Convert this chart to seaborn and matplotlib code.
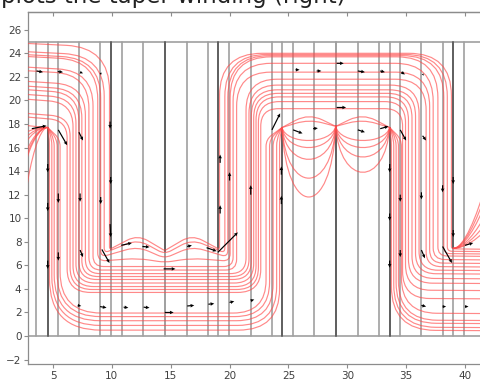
import numpy as np
import pandas as pd
import matplotlib
matplotlib.use("Agg")
import matplotlib.pyplot as plt
import seaborn as sns
from matplotlib.path import Path
from matplotlib.patches import PathPatch

# ---------------- data ----------------
GRID_X = [3.56, 5.45, 7.21, 9.02, 10.84, 12.65, 14.49, 16.38, 18.17, 19.98, 21.8,
          23.58, 25.37, 27.15, 29.02, 30.89, 32.7, 34.5, 36.3, 38.1, 39.95, 41.75]
BOX_Y = [0.0, 25.0]
PLATE_BOTTOM_X = [4.55, 24.46, 29.02, 33.6]
PLATE_BOTTOM_TIP = [17.7, 17.7, 17.8, 17.7]
PLATE_TOP_X = [9.9, 14.49, 19.04, 39.0]
PLATE_TOP_TIP = [7.35, 7.25, 7.35, 7.45]

# main staircase bundle of field lines
BUNDLE_Y_LEFT = [24.8, 24.1, 23.85, 23.7, 22.8, 22.5, 21.6, 21.2, 20.9, 20.5, 20.1, 18.9, 18.6]
BUNDLE_X_DROP1 = [9.80, 9.35, 9.05, 8.8, 8.4, 8.05, 7.75, 7.45, 7.2, 6.95, 6.7, 6.45, 6.2]
BUNDLE_Y_LOW = [7.25, 6.95, 6.6, 6.25, 5.9, 5.6, 5.3, 5.05, 4.8, 4.5, 4.2, 3.95, 3.7]
BUNDLE_Y_HUMP = [8.6, 8.2, 7.6, 6.6, 5.9, 5.6, 5.3, 5.05, 4.8, 4.5, 4.2, 3.95, 3.7]
BUNDLE_X_RISE = [19.15, 19.6, 19.85, 20.05, 20.3, 20.6, 21.4, 21.65, 21.85, 22.05, 22.25, 22.45, 22.65]
BUNDLE_Y_TOP = [24.0, 23.9, 23.8, 23.7, 23.15, 22.4, 21.8, 21.3, 20.9, 20.6, 20.3, 19.9, 19.3]
BUNDLE_X_DROP2 = [38.85, 38.5, 38.2, 37.7, 37.3, 37.0, 36.7, 36.1, 35.8, 35.5, 35.2, 34.95, 34.7]
BUNDLE_Y_RIGHT = [7.4, 7.2, 7.0, 6.8, 6.5, 6.2, 5.9, 5.6, 5.3, 4.9, 4.5, 3.9, 3.2]

# arcs hanging between plate tips
ARC_LEFT_DIP = [16.6, 16.0, 15.0, 13.4, 11.8]     # 24.46 -> 29.02
ARC_RIGHT_DIP = [16.6, 16.0, 15.2, 13.9]          # 29.02 -> 33.6
ARCH_PEAK = [18.9, 18.4]                          # arches over the tips

# fans from tips to the plot edges
FAN_LEFT_Y = [17.9, 17.3, 16.9, 16.5, 15.6, 15.2, 14.9, 12.4]
FAN_RIGHT_Y = [12.4, 11.7, 11.0, 10.1, 9.4, 8.85]

# U-shaped loops near the bottom
ULOOP_L_YBOT = [0.5, 0.9, 1.3, 1.65, 1.95]
ULOOP_L_XDOWN = [4.7, 4.9, 5.1, 5.35, 5.6]
ULOOP_L_XUP = [24.25, 24.0, 23.7, 23.4, 23.1]
ULOOP_R_YBOT = [0.5, 0.76, 1.1, 1.36, 1.95]
ULOOP_R_XDOWN = [33.75, 33.95, 34.15, 34.35, 34.6]

# arrows (tail position, displacement)
QX = [3.6, 5.4, 7.3, 9.05, 25.6, 27.4, 29.1, 30.9, 32.8, 34.6, 36.4,
      3.2, 5.45, 7.2, 23.6, 25.4, 27.1, 29.1, 30.9, 32.8, 34.5, 36.4,
      4.55, 4.55, 4.55, 5.45, 5.45, 7.3, 7.3, 9.05, 9.85, 9.9, 9.85, 9.15,
      10.8, 12.6, 14.4, 16.4, 18.05, 19.0,
      19.2, 19.2, 20.0, 21.8, 24.4, 24.4,
      33.6, 33.6, 33.6, 34.5, 34.5, 36.3, 36.3, 38.1, 38.1, 39.0, 39.0, 40.0,
      7.1, 9.0, 11.0, 12.7, 14.5, 16.4, 18.2, 20.0, 21.8, 36.3, 38.1, 40.0]
QY = [22.5, 22.45, 22.4, 22.35, 22.6, 22.5, 23.15, 22.5, 22.5, 22.4, 22.25,
      17.6, 17.5, 17.3, 17.5, 17.5, 17.6, 19.4, 17.5, 17.6, 17.5, 17.0,
      14.6, 11.3, 6.4, 12.1, 7.1, 12.1, 7.3, 11.8, 18.2, 13.5, 9.5, 7.35,
      7.7, 7.6, 5.7, 7.6, 7.5, 7.1,
      14.7, 10.4, 13.2, 12.0, 13.7, 11.2,
      14.6, 10.4, 6.4, 12.0, 7.3, 12.2, 7.3, 12.8, 7.6, 13.5, 9.0, 7.7,
      2.6, 2.5, 2.45, 2.45, 2.0, 2.55, 2.7, 2.85, 3.0, 2.6, 2.5, 2.5]
QU = [0.55, 0.45, 0.25, 0.03, 0.35, 0.4, 0.6, 0.6, 0.4, 0.3, 0.1,
      1.25, 0.75, 0.35, 0.7, 0.8, 0.4, 0.8, 0.6, 0.7, 0.5, 0.3,
      0, 0, 0, 0, 0, 0, 0.25, 0, 0, 0, 0.05, 0.65,
      0.9, 0.6, 1.0, 0.4, 0.85, 1.7,
      0, 0, 0, 0, 0, 0,
      0, 0, 0, 0, 0, 0, 0.3, 0, 0.8, 0, 0, 0.7,
      0.3, 0.55, 0.4, 0.5, 0.75, 0.6, 0.5, 0.4, 0.3, 0.4, 0.3, 0.3]
QV = [-0.1, -0.05, -0.1, -0.2, 0.0, 0.0, 0.0, -0.1, -0.1, -0.2, -0.15,
      0.25, -1.3, -0.7, 1.4, -0.3, 0.05, 0.0, -0.2, 0.2, -0.9, -0.4,
      -0.7, -0.7, -0.7, -0.8, -0.7, -0.7, -0.6, -0.6, -0.6, -0.6, -1.1, -1.15,
      0.2, -0.05, 0.0, 0.1, -0.3, 1.7,
      0.7, 0.7, 0.7, 0.8, 0.7, 0.7,
      -0.7, -0.6, -0.6, -0.6, -0.6, -0.6, -0.7, -0.6, -1.4, -0.6, -0.6, 0.2,
      -0.05, -0.1, -0.05, -0.05, 0.0, 0.05, 0.05, 0.1, 0.1, -0.1, 0.0, 0.0]

X_TICKS = [5, 10, 15, 20, 25, 30, 35, 40]
Y_TICKS = list(range(-2, 27, 2))
TITLE = "plots the taper winding (right)"

# ---------------- styling ----------------
sns.set_theme(style="white")
plt.rcParams["font.family"] = ["DejaVu Sans"]

RED = "#ff4a4a"
LIGHT = "#a0a0a0"
DARK = "#606060"


def rounded(pts, radii):
    pts = np.asarray(pts, float)
    verts = [tuple(pts[0])]
    codes = [Path.MOVETO]
    for i in range(1, len(pts) - 1):
        a, p, b = pts[i - 1], pts[i], pts[i + 1]
        la = np.hypot(*(p - a))
        lb = np.hypot(*(b - p))
        r = min(radii[i], 0.5 * la, 0.5 * lb)
        din = (p - a) / la
        dout = (b - p) / lb
        verts += [tuple(p - din * r), tuple(p), tuple(p + dout * r)]
        codes += [Path.LINETO, Path.CURVE3, Path.CURVE3]
    verts.append(tuple(pts[-1]))
    codes.append(Path.LINETO)
    return Path(verts, codes)


def cubic(p0, p1, p2, p3):
    return Path([p0, p1, p2, p3], [Path.MOVETO, Path.CURVE4, Path.CURVE4, Path.CURVE4])


fig = plt.figure(figsize=(4.81, 3.79), dpi=100)
ax = fig.add_axes([27.7 / 481, 1 - 364.3 / 379, (488.5 - 27.7) / 481, (364.3 - 12.3) / 379])
ax.set_xlim(2.85, 42.0)
ax.set_ylim(-2.4, 27.48)

# gray structure lines via seaborn
rows = []
for k, x in enumerate(GRID_X + PLATE_BOTTOM_X + PLATE_TOP_X):
    rows += [dict(seg=k, x=x, y=BOX_Y[0]), dict(seg=k, x=x, y=BOX_Y[1])]
for k, y in enumerate(BOX_Y):
    rows += [dict(seg=100 + k, x=0.0, y=y), dict(seg=100 + k, x=45.0, y=y)]
df_grid = pd.DataFrame(rows)
sns.lineplot(data=df_grid, x="x", y="y", units="seg", estimator=None, sort=False,
             color=LIGHT, lw=1.2, ax=ax, legend=False)

rows = []
for k, (x, t) in enumerate(zip(PLATE_BOTTOM_X, PLATE_BOTTOM_TIP)):
    rows += [dict(seg=k, x=x, y=BOX_Y[0]), dict(seg=k, x=x, y=t)]
for k, (x, t) in enumerate(zip(PLATE_TOP_X, PLATE_TOP_TIP)):
    rows += [dict(seg=50 + k, x=x, y=BOX_Y[1]), dict(seg=50 + k, x=x, y=t)]
df_plate = pd.DataFrame(rows)
sns.lineplot(data=df_plate, x="x", y="y", units="seg", estimator=None, sort=False,
             color=DARK, lw=1.4, ax=ax, legend=False)

paths = []
# bundle
for i in range(len(BUNDLE_Y_LEFT)):
    yL, xd1, yb, yh = BUNDLE_Y_LEFT[i], BUNDLE_X_DROP1[i], BUNDLE_Y_LOW[i], BUNDLE_Y_HUMP[i]
    xr, yt, xd2, yr = BUNDLE_X_RISE[i], BUNDLE_Y_TOP[i], BUNDLE_X_DROP2[i], BUNDLE_Y_RIGHT[i]
    hump = yh > yb
    yend = yb + 0.1 if hump else yb
    pts = [(1.5, yL + 0.1), (xd1, yL - 0.3), (xd1, yend), (12.2, yh), (14.49, yb),
           (16.8, yh), (xr, yend), (xr, yt), (xd2, yt), (xd2, yr), (43.0, yr - 0.05)]
    rA = 1.5 + (yL - 18.6) * 0.35
    rB = 0.2 + (9.8 - xd1) * 0.5
    rC = 0.2 + (xr - 19.15) * 0.5
    rD = 1.5 + (yt - 19.3) * 0.45
    rF = 0.2 + (38.85 - xd2) * 0.5
    rM = 0.15 if i == 0 else 0.6
    radii = [0, rA, rB, 1.0, rM, 1.0, rC, rD, rD, rF, 0]
    paths.append(rounded(pts, radii))

# hanging arcs
for xa, xb, ya, yb, dips in [(24.46, 29.02, 17.7, 17.8, ARC_LEFT_DIP),
                             (29.02, 33.6, 17.8, 17.7, ARC_RIGHT_DIP)]:
    w = xb - xa
    for yd in dips:
        c = (ya + yb) / 2 - 4.0 / 3.0 * ((ya + yb) / 2 - yd)
        paths.append(cubic((xa, ya), (xa + 0.08 * w, c), (xb - 0.08 * w, c), (xb, yb)))

# arches over tips
for p in ARCH_PEAK:
    pts = [(24.46, 17.7), (26.74, p), (29.02, 17.8), (31.3, p), (33.6, 17.7)]
    paths.append(rounded(pts, [0, 1.6, 0.15, 1.6, 0]))

# fans
for yE in FAN_LEFT_Y:
    d = 17.7 - yE
    paths.append(cubic((4.55, 17.7), (3.85, 17.75), (3.05, yE + 0.45 * d), (2.7, yE - 0.05 * d)))
for yE in FAN_RIGHT_Y:
    d = yE - 7.45
    paths.append(cubic((39.0, 7.45), (39.9, 7.4), (41.0, yE - 0.45 * d), (41.8, yE + 0.1 * d)))

# U loops
for yb, xdn, xup in zip(ULOOP_L_YBOT, ULOOP_L_XDOWN, ULOOP_L_XUP):
    rb = 3.5 + (1.95 - yb) * 0.6
    pts = [(4.55, 17.7), (xdn, 16.7), (xdn, yb), (xup, yb), (xup, 16.7), (24.46, 17.7)]
    paths.append(rounded(pts, [0, 0.6, rb, rb * 0.8, 0.6, 0]))
for yb, xdn in zip(ULOOP_R_YBOT, ULOOP_R_XDOWN):
    rb = 3.0 + (1.95 - yb) * 0.5
    pts = [(33.6, 17.7), (xdn, 16.7), (xdn, yb), (43.0, yb - 0.05)]
    paths.append(rounded(pts, [0, 0.6, rb, 0]))

for p in paths:
    ax.add_patch(PathPatch(p, fill=False, edgecolor=RED, lw=0.85, alpha=0.65, zorder=3))

# arrows
ax.quiver(QX, QY, QU, QV, angles="xy", scale_units="xy", scale=1, color="black",
          width=0.0026, headwidth=3.0, headlength=3.2, headaxislength=2.9,
          minlength=0.2, zorder=4)

# axes cosmetics
ax.set_xticks(X_TICKS)
ax.set_yticks(Y_TICKS)
ax.set_xlabel("")
ax.set_ylabel("")
for s in ["left", "bottom", "top"]:
    ax.spines[s].set_visible(True)
    ax.spines[s].set_color("#8c8c8c")
    ax.spines[s].set_linewidth(0.9)
ax.spines["right"].set_visible(False)
ax.tick_params(axis="both", direction="out", length=3, width=0.8, color="#8c8c8c",
               labelsize=7.5, labelcolor="#404040", pad=1.5, left=True, bottom=True)
sec = ax.secondary_xaxis("top")
sec.set_xticks(X_TICKS)
sec.tick_params(direction="in", length=3, width=0.8, color="#8c8c8c", labeltop=False)
sec.spines["top"].set_color("#8c8c8c")
sec.spines["top"].set_linewidth(0.9)

fig.text(1 / 481, 1 - 3 / 379, TITLE, fontsize=16.5, va="baseline", ha="left", color="#222222")

fig.savefig("out.png", dpi=100)
